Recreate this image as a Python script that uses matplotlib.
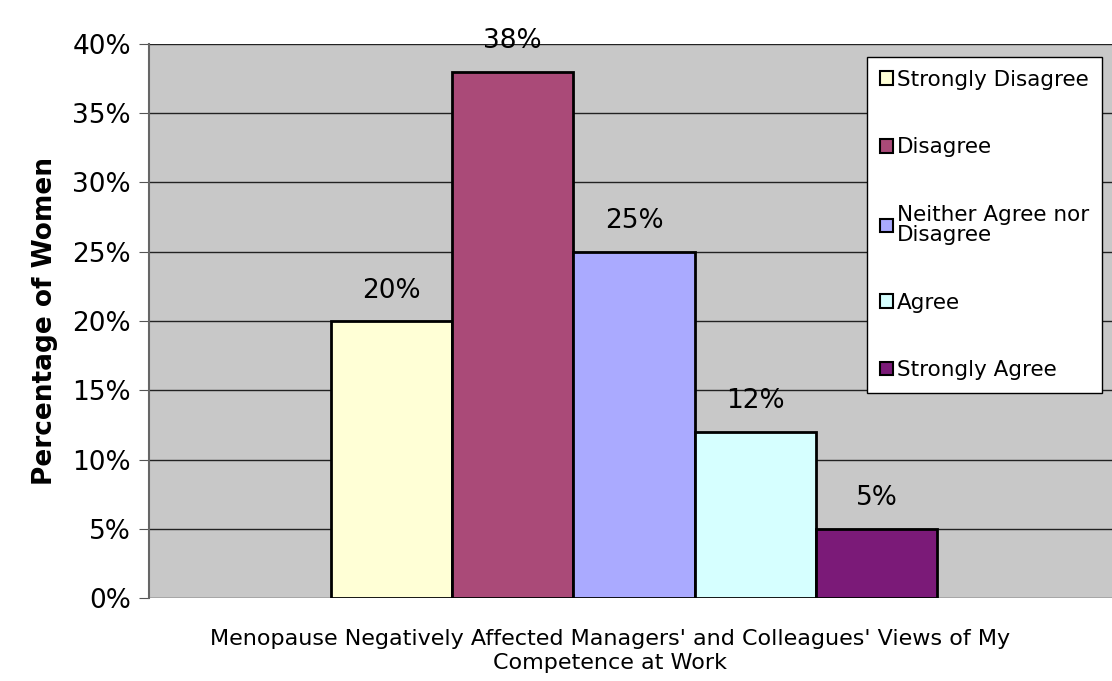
import matplotlib.pyplot as plt
from matplotlib.patches import Patch
from matplotlib.ticker import PercentFormatter

# responses and share of women
responses = ["Strongly Disagree", "Disagree", "Neither Agree nor\nDisagree", "Agree", "Strongly Agree"]
values = [20, 38, 25, 12, 5]
colors = ["#FFFFD6", "#AA4A78", "#AAAAFF", "#D6FFFF", "#7B1A78"]

fig = plt.figure(figsize=(11.12, 6.81), dpi=100)
ax = fig.add_axes([149 / 1112, 1 - 598 / 681, (1119 - 149) / 1112, (598 - 44) / 681])
ax.set_facecolor("#C8C8C8")

# bars side by side for the single category
for i, (v, c) in enumerate(zip(values, colors)):
    ax.bar(i + 0.5, v, width=1.0, color=c, edgecolor="black", linewidth=2, zorder=3)
    ax.text(i + 0.5, v + 2.2, f"{v}%", ha="center", va="center", fontsize=19, zorder=4)

ax.set_xlim(-1.5, 6.5)
ax.set_ylim(0, 40)
ax.set_yticks(range(0, 41, 5))
ax.yaxis.set_major_formatter(PercentFormatter(decimals=0))
ax.tick_params(axis="y", labelsize=19, length=7, color="#555555", pad=6)
ax.set_xticks([])
ax.grid(axis="y", color="#222222", linewidth=1, zorder=0)
for s in ["top", "right", "bottom"]:
    ax.spines[s].set_visible(False)
ax.spines["left"].set_color("#666666")
ax.spines["left"].set_linewidth(1.5)

ax.set_ylabel("Percentage of Women", fontsize=19, fontweight="bold", labelpad=10)

fig.text(610 / 1112, 1 - 651 / 681,
         "Menopause Negatively Affected Managers' and Colleagues' Views of My\nCompetence at Work",
         ha="center", va="center", fontsize=16, linespacing=1.25)

handles = [Patch(facecolor=c, edgecolor="black", linewidth=1.5) for c in colors]
leg = ax.legend(handles, responses, loc="upper left", bbox_to_anchor=(867 / 1112, 1 - 57 / 681),
                bbox_transform=fig.transFigure, fontsize=15.5, frameon=True, fancybox=False,
                edgecolor="black", framealpha=1, handlelength=0.6, handleheight=0.6,
                handletextpad=0.2, labelspacing=2.2, borderpad=0.6, borderaxespad=0)
leg.get_frame().set_linewidth(1)
for t in leg.get_texts():
    t.set_linespacing(1.05)

plt.savefig("out.png", dpi=100)
